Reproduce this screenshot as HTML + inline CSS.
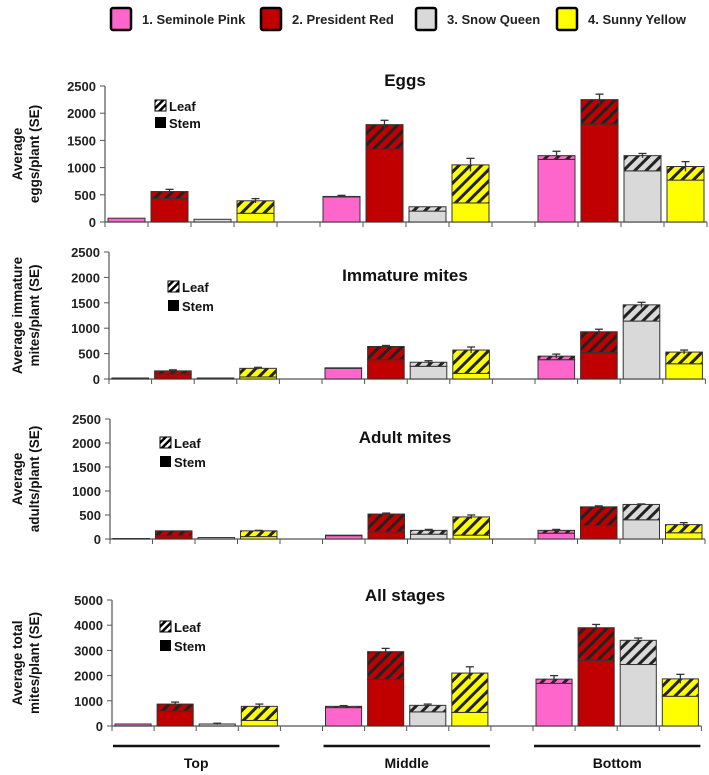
<!DOCTYPE html>
<html><head><meta charset="utf-8"><style>
body{margin:0;background:#fff;}
svg{display:block;font-family:"Liberation Sans",sans-serif;}
</style></head><body>
<svg id="chart" width="709" height="775">
<defs>
<pattern id="h-pink" patternUnits="userSpaceOnUse" width="8" height="8" patternTransform="rotate(45)"><rect width="8" height="8" fill="#ff66cc"/><rect width="3" height="8" fill="#222"/></pattern>
<pattern id="h-red" patternUnits="userSpaceOnUse" width="8" height="8" patternTransform="rotate(45)"><rect width="8" height="8" fill="#c00000"/><rect width="3" height="8" fill="#222"/></pattern>
<pattern id="h-grey" patternUnits="userSpaceOnUse" width="8" height="8" patternTransform="rotate(45)"><rect width="8" height="8" fill="#d9d9d9"/><rect width="3" height="8" fill="#222"/></pattern>
<pattern id="h-yellow" patternUnits="userSpaceOnUse" width="8" height="8" patternTransform="rotate(45)"><rect width="8" height="8" fill="#ffff00"/><rect width="3" height="8" fill="#222"/></pattern>
<pattern id="h-white" patternUnits="userSpaceOnUse" width="5" height="5" patternTransform="rotate(45)"><rect width="5" height="5" fill="#fff"/><rect width="2.5" height="5" fill="#000"/></pattern>
</defs>
</svg>
<script>
const varieties = ["1. Seminole Pink","2. President Red","3. Snow Queen","4. Sunny Yellow"];
const positions = ["Top","Middle","Bottom"];
const panelTitles = ["Eggs","Immature mites","Adult mites","All stages"];
const yTitles = [["Average","eggs/plant (SE)"],["Average  immature","mites/plant (SE)"],["Average","adults/plant (SE)"],["Average total","mites/plant (SE)"]];
const yMaxes = [2500,2500,2500,5000];
const yTickStep = [500,500,500,1000];
// order: Top(P,R,G,Y), Middle(P,R,G,Y), Bottom(P,R,G,Y)
const eggsStem  = [70,430,50,160, 460,1340,200,350, 1150,1800,940,770];
const eggsTotal = [70,560,50,390, 470,1790,280,1050, 1220,2250,1220,1020];
const eggsErr   = [0,40,0,40, 20,80,0,120, 80,100,40,90];
const immStem   = [20,100,20,40, 210,380,250,110, 380,520,1140,300];
const immTotal  = [20,160,20,210, 220,640,330,570, 450,930,1460,530];
const immErr    = [0,20,0,20, 0,20,30,60, 40,50,50,40];
const adStem    = [10,70,30,50, 70,150,100,80, 120,280,400,130];
const adTotal   = [10,170,30,170, 80,520,180,460, 180,670,720,300];
const adErr     = [0,0,0,10, 0,20,20,40, 20,20,10,40];
const allStem   = [80,590,80,220, 730,1850,560,540, 1690,2610,2440,1180];
const allTotal  = [80,870,80,780, 780,2950,820,2100, 1860,3900,3400,1870];
const allErr    = [0,80,30,90, 30,130,50,250, 140,130,90,180];

const stems=[eggsStem,immStem,adStem,allStem], totals=[eggsTotal,immTotal,adTotal,allTotal], errs=[eggsErr,immErr,adErr,allErr];
const colors=["#ff66cc","#c00000","#d9d9d9","#ffff00"];
const hatches=["url(#h-pink)","url(#h-red)","url(#h-grey)","url(#h-yellow)"];
const panels=[{ax:105,slot:43,zero:222,top:86,title:80,leaf:106,stem:123,lx:155},{ax:109,slot:42.6,zero:379,top:252,title:275,leaf:287,stem:306,lx:168},{ax:110,slot:42.5,zero:539,top:419,title:437,leaf:443,stem:462,lx:160},{ax:112,slot:42.1,zero:726,top:600,title:595,leaf:627,stem:646,lx:160}];
const svg=document.getElementById('chart');
const NS="http://www.w3.org/2000/svg";
function mk(t,a,p){const e=document.createElementNS(NS,t);for(const k in a)e.setAttribute(k,a[k]);(p||svg).appendChild(e);return e;}
function slotX(p,i){const g=Math.floor(i/4);return p.ax+(i+g)*p.slot;}

// top legend
const lgX=[111,261,416,557];
varieties.forEach((v,i)=>{
  const g=mk('g',{});
  
  
  mk('rect',{x:lgX[i],y:8,width:20,height:22,fill:colors[i],stroke:'#000','stroke-width':2.5,rx:2},g);
  const t=mk('text',{x:lgX[i]+31,y:24,'font-size':13,'font-weight':'bold',fill:'#222'},g);
  t.textContent=v;
});

panels.forEach((p,pi)=>{
  const g=mk('g',{});
  
  
  const ymax=yMaxes[pi];
  const y=v=>p.zero-(v/ymax)*(p.zero-p.top);
  const AX=p.ax, SLOT=p.slot;
  const tt=mk('text',{x:405,y:p.title+6,'text-anchor':'middle','font-size':17,'font-weight':'bold',fill:'#111'},g);
  
  
  tt.textContent=panelTitles[pi];
  mk('line',{x1:AX,y1:p.top,x2:AX,y2:p.zero,stroke:'#555','stroke-width':1.2},g);
  for(let v=0;v<=ymax;v+=yTickStep[pi]){
    mk('line',{x1:AX-5,y1:y(v),x2:AX,y2:y(v),stroke:'#555'},g);
    const l=mk('text',{x:AX-9,y:y(v)+5,'text-anchor':'end','font-size':13,'font-weight':'bold',fill:'#222'},g);
    l.textContent=v;
  }
  const cy=(p.zero+p.top)/2;
  yTitles[pi].forEach((s,li)=>{
    const t=mk('text',{x:0,y:0,'text-anchor':'middle','font-size':13.5,'font-weight':'bold',fill:'#111',transform:`translate(${22+li*17},${cy}) rotate(-90)`},g);
    
    
    t.textContent=s;
  });
  mk('line',{x1:AX,y1:p.zero,x2:AX+14*SLOT,y2:p.zero,stroke:'#555','stroke-width':1.2},g);
  for(let k=0;k<=14;k++){mk('line',{x1:AX+k*SLOT,y1:p.zero,x2:AX+k*SLOT,y2:p.zero+5,stroke:'#555'},g);}
  for(let i=0;i<12;i++){
    const c=i%4, x=slotX(p,i)+3, w=SLOT-6;
    const s=stems[pi][i], t=totals[pi][i], e=errs[pi][i];
    const ys=y(s), yt=y(t);
    const st=mk('rect',{x:x,y:ys,width:w,height:p.zero-ys,fill:colors[c],stroke:'#333','stroke-width':1},g);
    
    
    if(t>s){
      const lf=mk('rect',{x:x,y:yt,width:w,height:ys-yt,fill:hatches[c],stroke:'#333','stroke-width':1},g);
      
      
    }
    if(e>0){
      const cx=x+w/2;
      mk('line',{x1:cx,y1:yt,x2:cx,y2:y(t+e),stroke:'#333','stroke-width':1.3},g);
      mk('line',{x1:cx-4,y1:y(t+e),x2:cx+4,y2:y(t+e),stroke:'#333','stroke-width':1.3},g);
      mk('line',{x1:cx,y1:yt,x2:cx,y2:Math.min(p.zero,y(t-e)),stroke:'#333','stroke-width':1.3},g);
    }
  }
  const il=mk('g',{},g);
  
  
  mk('rect',{x:p.lx,y:p.leaf-6,width:11,height:11,fill:'url(#h-white)',stroke:'#000'},il);
  mk('text',{x:p.lx+14,y:p.leaf+5,'font-size':13,'font-weight':'bold',fill:'#111'},il).textContent='Leaf';
  mk('rect',{x:p.lx,y:p.stem-6,width:11,height:11,fill:'#000'},il);
  mk('text',{x:p.lx+14,y:p.stem+5,'font-size':13,'font-weight':'bold',fill:'#111'},il).textContent='Stem';
});

const pb=panels[3];
positions.forEach((s,gi)=>{
  const x0=slotX(pb,gi*4)+1, x1=slotX(pb,gi*4+3)+pb.slot-1;
  const ln=mk('line',{x1:x0,y1:746,x2:x1,y2:746,stroke:'#111','stroke-width':2.5});
  
  
  const t=mk('text',{x:(x0+x1)/2,y:768,'text-anchor':'middle','font-size':14,'font-weight':'bold',fill:'#111'});
  
  
  t.textContent=s;
});
</script>
</body></html>
